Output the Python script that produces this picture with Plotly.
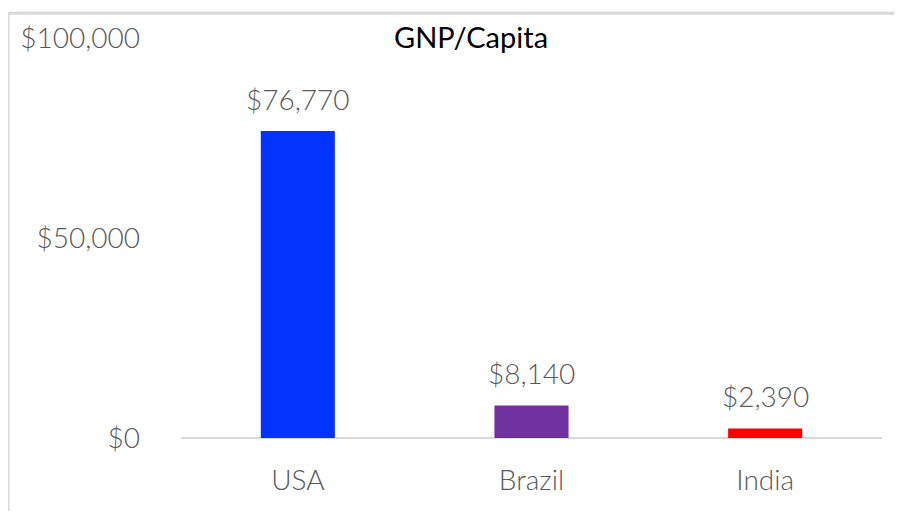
import plotly.graph_objects as go

# values
countries = ['USA', 'Brazil', 'India']
gnp_per_capita = [76770, 8140, 2390]
bar_colors = ['#0433FF', '#7030A0', '#FF0000']
y_ticks = [0, 50000, 100000]
y_tick_labels = ['$0', '$50,000', '$100,000']

GRAY = '#595959'
FONT = 'Lato'

# the page has an 8px body margin, so size the figure to what is left
W, H = 886, 503
L, R, T, B = 173, 12, 25, 73
plot_w = W - L - R
plot_h = H - T - B

fig = go.Figure(
    go.Bar(
        x=countries,
        y=gnp_per_capita,
        marker_color=bar_colors,
        marker_line_width=0,
        hoverinfo='skip',
    )
)

# value labels above the bars
for c, v in zip(countries, gnp_per_capita):
    fig.add_annotation(
        x=c, y=v, text=f'${v:,}', showarrow=False,
        yanchor='bottom', yshift=13,
        font=dict(family=FONT, size=28, color=GRAY, weight=300),
    )

# chart frame: only its top and left edges are in view
fx0 = (0 - L) / plot_w
fx1 = (W + 20 - L) / plot_w
fy0 = (plot_h + T - H - 20) / plot_h
fy1 = (plot_h + T - 0) / plot_h

fig.update_layout(
    width=W,
    height=H,
    margin=dict(l=L, r=R, t=T, b=B),
    paper_bgcolor='white',
    plot_bgcolor='white',
    showlegend=False,
    bargap=0.683,
    title=dict(
        text='GNP/Capita',
        x=463 / W,
        xanchor='center',
        y=1 - 30 / H,
        yanchor='middle',
        font=dict(family=FONT, size=29, color='black'),
    ),
    xaxis=dict(
        showgrid=False,
        showline=False,
        ticks='',
        tickfont=dict(family=FONT, size=28, color=GRAY, weight=300),
        ticklabelstandoff=23,
    ),
    yaxis=dict(
        range=[0, 100000],
        tickvals=y_ticks,
        ticktext=y_tick_labels,
        showgrid=False,
        zeroline=True,
        zerolinecolor='#D9D9D9',
        zerolinewidth=2,
        showline=False,
        ticks='',
        tickfont=dict(family=FONT, size=28, color=GRAY, weight=300),
        ticklabelstandoff=40,
    ),
    shapes=[
        dict(
            type='path', xref='paper', yref='paper',
            path=f'M {fx0},{fy0} L {fx0},{fy1} L {fx1},{fy1}',
            line=dict(color='#D9D9D9', width=3),
            layer='below',
        )
    ],
)

fig.write_html("out.html")
